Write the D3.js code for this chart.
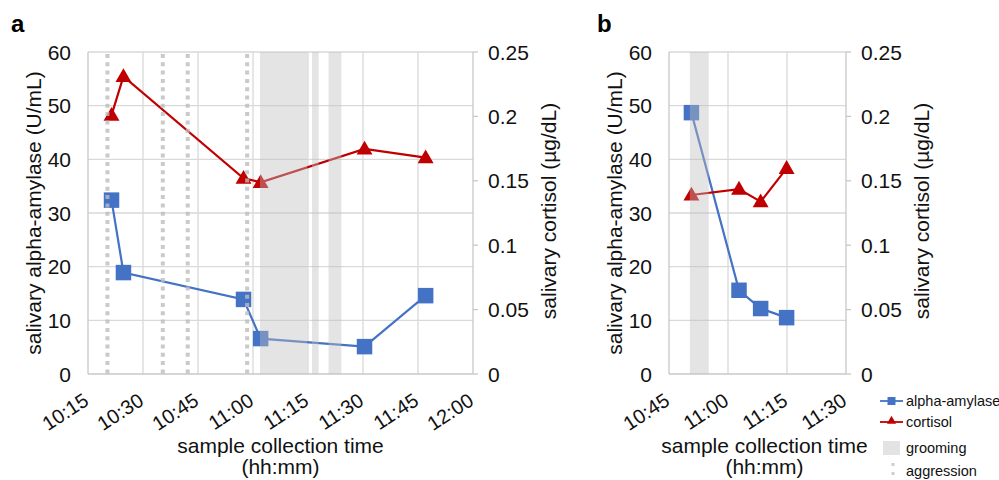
<!DOCTYPE html>
<html>
<head>
<meta charset="utf-8">
<script src="https://cdn.jsdelivr.net/npm/d3@7"></script>
<style>
  body { margin: 0; background: #fff; }
  svg { display: block; font-family: "Liberation Sans", Arial, Helvetica, sans-serif; }
</style>
</head>
<body>
<div id="chart"></div>
<script>
// panel a
const timesA = ["10:21:25", "10:24:40", "10:57:25", "11:02:05", "11:30:25", "11:47:05"]
const amylaseA = [32.4, 18.9, 13.9, 6.6, 5.1, 14.6]
const cortisolA = [0.201, 0.231, 0.152, 0.1488, 0.1747, 0.168]
const groomingA = [["11:01:54", "11:14:48"], ["11:16:06", "11:17:54"], ["11:20:36", "11:24:06"]]
const aggressionA = ["10:20:18", "10:35:24", "10:42:12", "10:58:24"]

// panel b
const timesB = ["10:50:42", "11:02:48", "11:08:18", "11:14:54"]
const amylaseB = [48.7, 15.6, 12.2, 10.5]
const cortisolB = [0.139, 0.1436, 0.1338, 0.1597]
const groomingB = [["10:50:18", "10:55:06"]]
const aggressionB = []

const amylaseTicks = [0, 10, 20, 30, 40, 50, 60]
const cortisolTicks = [0, 0.05, 0.1, 0.15, 0.2, 0.25]
const legendLabels = ["alpha-amylase", "cortisol", "grooming", "aggression"]

const BLUE = "#4472C4", RED = "#C00000"
const parse = d3.timeParse("%H:%M:%S")
const fmt = d3.timeFormat("%H:%M")

const svg = d3.select("#chart").append("svg")
    .attr("width", 999)
    .attr("height", 480)

function panel(o) {
  const g = svg.append("g")
  const x = d3.scaleTime().domain([parse(o.from), parse(o.to)]).range([o.left, o.right])
  const yL = d3.scaleLinear().domain([0, 60]).range([374, 52])
  const yR = d3.scaleLinear().domain([0, 0.25]).range([374, 52])
  const xt = d3.timeMinute.every(15).range(x.domain()[0], d3.timeMinute.offset(x.domain()[1], 1))

  // grid
  g.append("g").selectAll("line").data(amylaseTicks.slice(1)).join("line")
      .attr("x1", o.left).attr("x2", o.right)
      .attr("y1", d => yL(d)).attr("y2", d => yL(d))
      .attr("stroke", "#d9d9d9").attr("stroke-width", 1.3)
  g.append("g").selectAll("line").data(xt.slice(1, -1)).join("line")
      .attr("x1", d => x(d)).attr("x2", d => x(d))
      .attr("y1", 52).attr("y2", 374)
      .attr("stroke", "#d9d9d9").attr("stroke-width", 1.3)

  // axes lines
  g.append("line").attr("x1", o.left).attr("x2", o.left).attr("y1", 52).attr("y2", 374)
      .attr("stroke", "#c8c8c8").attr("stroke-width", 1.3)
  g.append("line").attr("x1", o.right).attr("x2", o.right).attr("y1", 52).attr("y2", 374)
      .attr("stroke", "#c8c8c8").attr("stroke-width", 1.3)
  g.append("line").attr("x1", o.left).attr("x2", o.right).attr("y1", 374).attr("y2", 374)
      .attr("stroke", "#c8c8c8").attr("stroke-width", 1.5)
  g.append("g").selectAll("line").data(cortisolTicks).join("line")
      .attr("x1", o.right).attr("x2", o.right + 5)
      .attr("y1", d => yR(d)).attr("y2", d => yR(d))
      .attr("stroke", "#c8c8c8").attr("stroke-width", 1.3)

  // tick labels
  g.append("g").selectAll("text").data(amylaseTicks).join("text")
      .attr("x", o.left - 17).attr("y", d => yL(d)).attr("dy", "0.36em")
      .attr("text-anchor", "end").attr("font-size", 21).attr("fill", "#111")
      .text(d => d)
  g.append("g").selectAll("text").data(cortisolTicks).join("text")
      .attr("x", o.right + 15).attr("y", d => yR(d)).attr("dy", "0.36em")
      .attr("font-size", 21).attr("fill", "#111")
      .text(d => +d.toFixed(2))
  g.append("g").selectAll("text").data(xt).join("text")
      .attr("transform", d => `translate(${x(d) + 2},404) rotate(-33)`)
      .attr("text-anchor", "end").attr("font-size", 20).attr("fill", "#111")
      .text(d => fmt(d))

  // titles
  const cx = (o.left + o.right) / 2 + o.titleShift
  g.append("text").attr("x", cx).attr("y", 453).attr("text-anchor", "middle")
      .attr("font-size", 21).attr("fill", "#111").text("sample collection time")
  g.append("text").attr("x", cx).attr("y", 474).attr("text-anchor", "middle")
      .attr("font-size", 21).attr("fill", "#111").text("(hh:mm)")
  g.append("text").attr("transform", `translate(${o.left - 47},213) rotate(-90)`)
      .attr("text-anchor", "middle").attr("font-size", 21).attr("fill", "#111")
      .text("salivary alpha-amylase (U/mL)")
  g.append("text").attr("transform", `translate(${o.right + 83},211) rotate(-90)`)
      .attr("text-anchor", "middle").attr("font-size", 21).attr("fill", "#111")
      .text("salivary cortisol (\u00b5g/dL)")
  g.append("text").attr("x", o.labelX).attr("y", 32)
      .attr("font-size", 24).attr("font-weight", "bold").text(o.label)

  // series
  const amy = o.times.map((t, i) => [parse(t), o.amylase[i]])
  const cor = o.times.map((t, i) => [parse(t), o.cortisol[i]])
  g.append("path").datum(amy)
      .attr("d", d3.line().x(d => x(d[0])).y(d => yL(d[1])))
      .attr("fill", "none").attr("stroke", BLUE).attr("stroke-width", 2.2)
  g.append("g").selectAll("path").data(amy).join("path")
      .attr("transform", d => `translate(${x(d[0])},${yL(d[1])})`)
      .attr("d", d3.symbol(d3.symbolSquare, 240))
      .attr("fill", BLUE)
  g.append("path").datum(cor)
      .attr("d", d3.line().x(d => x(d[0])).y(d => yR(d[1])))
      .attr("fill", "none").attr("stroke", RED).attr("stroke-width", 2.2)
  g.append("g").selectAll("path").data(cor).join("path")
      .attr("transform", d => `translate(${x(d[0])},${yR(d[1]) + 1})`)
      .attr("d", d3.symbol(d3.symbolTriangle, 110))
      .attr("fill", RED)

  // event overlays
  g.append("g").selectAll("rect").data(o.grooming).join("rect")
      .attr("x", d => x(parse(d[0]))).attr("width", d => x(parse(d[1])) - x(parse(d[0])))
      .attr("y", 52).attr("height", 322)
      .attr("fill", "#bfbfbf").attr("opacity", 0.42)
  g.append("g").selectAll("line").data(o.aggression).join("line")
      .attr("x1", d => x(parse(d))).attr("x2", d => x(parse(d)))
      .attr("y1", 54).attr("y2", 374)
      .attr("stroke", "#bdbdbd").attr("stroke-width", 4).attr("stroke-dasharray", "4,4.3")
      .attr("opacity", 0.8)
}

panel({ label: "a", labelX: 11, titleShift: 0, from: "10:15:00", to: "12:00:00", left: 88, right: 473,
  times: timesA, amylase: amylaseA, cortisol: cortisolA, grooming: groomingA, aggression: aggressionA })
panel({ label: "b", labelX: 597, titleShift: 7, from: "10:45:00", to: "11:30:00", left: 669, right: 846,
  times: timesB, amylase: amylaseB, cortisol: cortisolB, grooming: groomingB, aggression: aggressionB })

// legend
const lg = svg.append("g").attr("font-size", 14.5).attr("fill", "#111")
lg.append("line").attr("x1", 880).attr("x2", 903).attr("y1", 401).attr("y2", 401)
    .attr("stroke", BLUE).attr("stroke-width", 1.8)
lg.append("path").attr("transform", "translate(891.5,401)").attr("d", d3.symbol(d3.symbolSquare, 64)).attr("fill", BLUE)
lg.append("line").attr("x1", 880).attr("x2", 903).attr("y1", 422).attr("y2", 422)
    .attr("stroke", RED).attr("stroke-width", 1.8)
lg.append("path").attr("transform", "translate(891.5,421)").attr("d", d3.symbol(d3.symbolTriangle, 36)).attr("fill", RED)
lg.append("rect").attr("x", 883).attr("y", 441).attr("width", 17).attr("height", 14).attr("fill", "#e3e3e3")
lg.append("line").attr("x1", 893).attr("x2", 893).attr("y1", 463).attr("y2", 480)
    .attr("stroke", "#cfcfcf").attr("stroke-width", 3).attr("stroke-dasharray", "3,6")
lg.selectAll("text").data(legendLabels).join("text")
    .attr("x", 906).attr("y", (d, i) => [401, 422, 448, 471][i]).attr("dy", "0.35em")
    .text(d => d)
</script>
</body>
</html>
